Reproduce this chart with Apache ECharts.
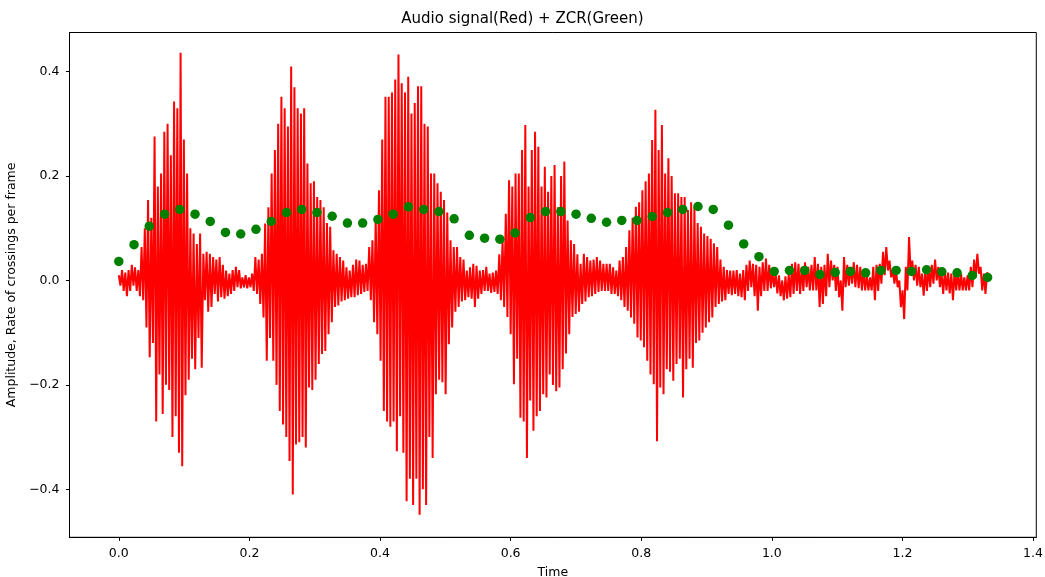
<!DOCTYPE html>
<html>
<head>
<meta charset="utf-8">
<title>Audio signal + ZCR</title>
<script src="https://cdn.jsdelivr.net/npm/echarts@6/dist/echarts.min.js"></script>
<style>
html, body {
    margin: 0;
    padding: 0;
    background: #fff;
}
#chart {
    width: 1045px;
    height: 577px;
}
</style>
</head>
<body>
<div id="chart"></div>
<script>
var sampleStep = 0.00498;
var signalUpper = [
    0.010, 0.020, 0.015, 0.020, 0.030, 0.025, 0.020, 0.064, 0.100, 0.154,
    0.120, 0.276, 0.180, 0.205, 0.285, 0.300, 0.240, 0.343, 0.330, 0.436,
    0.270, 0.205, 0.100, 0.090, 0.070, 0.090, 0.051, 0.055, 0.051, 0.045,
    0.040, 0.045, 0.030, 0.019, 0.013, 0.020, 0.026, 0.020, 0.006, 0.010,
    0.006, 0.013, 0.045, 0.040, 0.051, 0.109, 0.140, 0.205, 0.250, 0.300,
    0.352, 0.330, 0.295, 0.410, 0.370, 0.330, 0.320, 0.330, 0.224, 0.186,
    0.190, 0.160, 0.154, 0.140, 0.110, 0.103, 0.058, 0.051, 0.045, 0.038,
    0.025, 0.019, 0.030, 0.040, 0.038, 0.030, 0.032, 0.064, 0.077, 0.120,
    0.173, 0.270, 0.352, 0.352, 0.360, 0.385, 0.433, 0.378, 0.360, 0.390,
    0.320, 0.340, 0.372, 0.372, 0.300, 0.295, 0.205, 0.205, 0.186, 0.170,
    0.154, 0.130, 0.077, 0.064, 0.064, 0.045, 0.040, 0.019, 0.025, 0.032,
    0.028, 0.019, 0.020, 0.026, 0.013, 0.015, 0.019, 0.050, 0.077, 0.128,
    0.192, 0.180, 0.205, 0.205, 0.250, 0.298, 0.180, 0.250, 0.285, 0.256,
    0.180, 0.218, 0.170, 0.200, 0.221, 0.140, 0.200, 0.228, 0.115, 0.077,
    0.070, 0.050, 0.032, 0.051, 0.045, 0.038, 0.040, 0.045, 0.038, 0.032,
    0.032, 0.032, 0.025, 0.019, 0.038, 0.045, 0.064, 0.096, 0.120, 0.141,
    0.150, 0.173, 0.190, 0.205, 0.269, 0.327, 0.250, 0.298, 0.205, 0.234,
    0.200, 0.167, 0.167, 0.160, 0.160, 0.135, 0.150, 0.140, 0.110, 0.103,
    0.090, 0.085, 0.080, 0.071, 0.064, 0.040, 0.026, 0.020, 0.019, 0.019,
    0.020, 0.013, 0.020, 0.030, 0.038, 0.032, 0.030, 0.026, 0.035, 0.042,
    0.030, 0.019, 0.013, 0.010, 0.000, 0.008, 0.013, 0.032, 0.035, 0.032,
    0.026, 0.035, 0.026, 0.030, 0.045, 0.032, 0.026, 0.030, 0.051, 0.038,
    0.030, 0.026, 0.000, 0.045, 0.030, 0.026, 0.035, 0.030, 0.026, 0.019,
    0.010, 0.006, 0.026, 0.030, 0.032, 0.055, 0.064, 0.038, 0.020, 0.019,
    0.000, -0.019, 0.026, 0.083, 0.038, 0.030, 0.026, 0.013, 0.020, 0.026,
    0.030, 0.040, 0.026, 0.013, 0.019, 0.015, 0.013, 0.019, 0.015, 0.013,
    0.006, 0.010, 0.026, 0.040, 0.051, 0.026, 0.013, 0.015
];
var signalLower = [
    -0.010, -0.020, -0.030, -0.020, -0.010, -0.020, -0.030, -0.038, -0.090, -0.147,
    -0.120, -0.270, -0.180, -0.256, -0.200, -0.210, -0.300, -0.260, -0.330, -0.356,
    -0.220, -0.190, -0.150, -0.170, -0.110, -0.167, -0.038, -0.060, -0.051, -0.026,
    -0.040, -0.032, -0.035, -0.030, -0.026, -0.020, -0.013, -0.015, -0.013, -0.015,
    -0.013, -0.020, -0.026, -0.045, -0.071, -0.154, -0.110, -0.154, -0.200, -0.250,
    -0.276, -0.300, -0.346, -0.410, -0.314, -0.310, -0.300, -0.320, -0.205, -0.210,
    -0.190, -0.160, -0.141, -0.135, -0.103, -0.080, -0.051, -0.048, -0.040, -0.038,
    -0.035, -0.032, -0.032, -0.028, -0.026, -0.022, -0.020, -0.038, -0.080, -0.103,
    -0.154, -0.250, -0.270, -0.280, -0.270, -0.327, -0.260, -0.330, -0.423, -0.380,
    -0.430, -0.380, -0.449, -0.400, -0.430, -0.300, -0.340, -0.218, -0.190, -0.195,
    -0.218, -0.122, -0.090, -0.060, -0.051, -0.040, -0.038, -0.032, -0.035, -0.051,
    -0.035, -0.026, -0.020, -0.020, -0.024, -0.022, -0.026, -0.038, -0.051, -0.070,
    -0.103, -0.199, -0.150, -0.263, -0.270, -0.340, -0.230, -0.288, -0.260, -0.250,
    -0.218, -0.224, -0.180, -0.200, -0.212, -0.205, -0.170, -0.140, -0.103, -0.070,
    -0.064, -0.060, -0.045, -0.040, -0.032, -0.030, -0.026, -0.022, -0.020, -0.020,
    -0.020, -0.026, -0.026, -0.030, -0.038, -0.051, -0.058, -0.071, -0.083, -0.109,
    -0.115, -0.128, -0.154, -0.180, -0.199, -0.308, -0.205, -0.218, -0.170, -0.175,
    -0.192, -0.160, -0.150, -0.224, -0.170, -0.150, -0.167, -0.120, -0.115, -0.100,
    -0.090, -0.080, -0.071, -0.051, -0.045, -0.040, -0.038, -0.026, -0.028, -0.026,
    -0.030, -0.032, -0.038, -0.020, -0.013, -0.030, -0.058, -0.030, -0.020, -0.020,
    -0.015, -0.013, -0.025, -0.030, -0.038, -0.035, -0.032, -0.026, -0.020, -0.026,
    -0.020, -0.013, -0.019, -0.019, -0.019, -0.051, -0.045, -0.030, -0.013, 0.000,
    -0.020, -0.032, -0.058, -0.013, -0.010, -0.006, -0.013, -0.015, -0.019, -0.019,
    -0.019, -0.019, -0.038, -0.020, -0.006, 0.010, 0.019, 0.006, -0.006, -0.013,
    -0.051, -0.074, -0.019, 0.013, 0.000, -0.010, -0.013, -0.029, -0.020, -0.013,
    -0.006, 0.000, -0.013, -0.026, -0.019, -0.025, -0.038, -0.019, -0.019, -0.019,
    -0.019, -0.019, -0.013, 0.006, 0.013, -0.019, -0.026, 0.010
];

// zero crossing rate, one value per frame
var frameStep = 0.02334;
var zcr = [
    0.0365, 0.0686, 0.104, 0.127, 0.136, 0.127, 0.113, 0.092, 0.089, 0.098,
    0.113, 0.130, 0.136, 0.130, 0.123, 0.110, 0.110, 0.117, 0.127, 0.141,
    0.136, 0.132, 0.118, 0.0865, 0.081, 0.079, 0.091, 0.1205, 0.132, 0.132,
    0.127, 0.119, 0.1115, 0.115, 0.115, 0.1225, 0.130, 0.136, 0.1417, 0.136,
    0.1058, 0.070, 0.0455, 0.0173, 0.0192, 0.0192, 0.0115, 0.0154, 0.0173, 0.0147,
    0.0192, 0.0192, 0.0173, 0.0205, 0.0167, 0.0147, 0.0096, 0.0058
];

var xTicks = [0, 0.2, 0.4, 0.6, 0.8, 1.0, 1.2, 1.4];
var yTicks = [-0.4, -0.2, 0, 0.2, 0.4];

var font = "DejaVu Sans";

function tickText(v) {
    // matplotlib style minus sign
    var s = Number(v).toFixed(1);
    return s.charAt(0) == "-" ? "\u2212" + s.slice(1) : s;
}

function buildSignal() {
    var data = [];
    for (var i = 0; i < signalUpper.length; i++) {
        data.push([i * sampleStep, signalUpper[i]]);
        data.push([(i + 0.5) * sampleStep, signalLower[i]]);
    }
    return data;
}

function buildZcr() {
    var data = [];
    for (var i = 0; i < zcr.length; i++) {
        data.push([i * frameStep, zcr[i]]);
    }
    return data;
}

var chart = echarts.init(document.getElementById("chart"));
var option = {
    animation: false,
    backgroundColor: "#fff",
    textStyle: { fontFamily: font },
    title: {
        text: "Audio signal(Red) + ZCR(Green)",
        left: "center",
        top: 7,
        textStyle: {
            fontFamily: font,
            fontSize: 15,
            fontWeight: "normal",
            color: "#000",
        },
    },
    grid: {
        left: 69.5,
        right: 8.7,
        top: 32.5,
        bottom: 39.7,
        containLabel: false,
        outerBoundsMode: "none",
        show: true,
        borderColor: "#000",
        borderWidth: 1,
        backgroundColor: "transparent",
    },
    xAxis: {
        type: "value",
        min: -0.0755,
        max: 1.405,
        name: "Time",
        nameLocation: "middle",
        nameGap: 29,
        nameTextStyle: { fontFamily: font, fontSize: 12.5, color: "#000" },
        axisLine: { show: true, onZero: false, lineStyle: { color: "#000", width: 1 } },
        axisTick: {
            show: true,
            length: 3.5,
            customValues: xTicks,
            lineStyle: { color: "#000" },
        },
        axisLabel: {
            customValues: xTicks,
            margin: 10,
            fontFamily: font,
            fontSize: 12.5,
            color: "#000",
            formatter: tickText,
        },
        splitLine: { show: false },
    },
    yAxis: {
        type: "value",
        min: -0.492,
        max: 0.475,
        name: "Amplitude, Rate of crossings per frame",
        nameLocation: "middle",
        nameGap: 39,
        nameTextStyle: { fontFamily: font, fontSize: 12.5, color: "#000" },
        axisLine: { show: true, onZero: false, lineStyle: { color: "#000", width: 1 } },
        axisTick: {
            show: true,
            length: 3.5,
            customValues: yTicks,
            lineStyle: { color: "#000" },
        },
        axisLabel: {
            customValues: yTicks,
            margin: 10,
            fontFamily: font,
            fontSize: 12.5,
            color: "#000",
            formatter: tickText,
        },
        splitLine: { show: false },
    },
    series: [
        {
            name: "Audio signal",
            type: "line",
            data: buildSignal(),
            showSymbol: false,
            symbol: "none",
            sampling: null,
            lineStyle: { color: "#ff0000", width: 2 },
            z: 2,
        },
        {
            name: "ZCR",
            type: "scatter",
            data: buildZcr(),
            symbol: "circle",
            symbolSize: 9.5,
            itemStyle: { color: "#008000", opacity: 1 },
            z: 3,
        },
    ],
};
chart.setOption(option);
</script>
</body>
</html>
